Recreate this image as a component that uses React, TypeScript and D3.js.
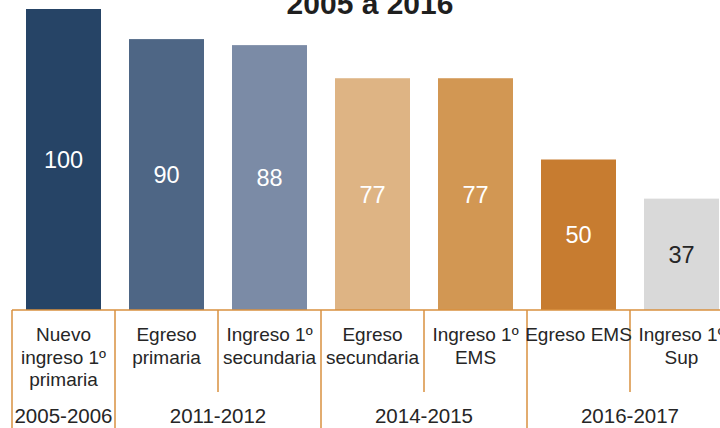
import React from "react";
import * as d3 from "d3";

const categories: string[][] = [
  ["Nuevo", "ingreso 1º", "primaria"],
  ["Egreso", "primaria"],
  ["Ingreso 1º", "secundaria"],
  ["Egreso", "secundaria"],
  ["Ingreso 1º", "EMS"],
  ["Egreso EMS"],
  ["Ingreso 1º", "Sup"],
];
const values = [100, 90, 88, 77, 77, 50, 37];
const barColors = ["#264466", "#4E6685", "#7B8BA6", "#DEB484", "#D29753", "#C77C30", "#D9D9D9"];
const labelColors = ["#fff", "#fff", "#fff", "#fff", "#fff", "#fff", "#262626"];
const groups = [
  { label: "2005-2006", from: 0, to: 0 },
  { label: "2011-2012", from: 1, to: 2 },
  { label: "2014-2015", from: 3, to: 4 },
  { label: "2016-2017", from: 5, to: 6 },
];
const title = "2005 a 2016";

const W = 720;
const H = 428;
const font = "'Liberation Sans', Arial, sans-serif";
const axisColor = "#D8913F";

export default function App() {
  const ids = categories.map((_, i) => String(i));
  const x = d3
    .scaleBand<string>()
    .domain(ids)
    .range([12, 733])
    .paddingInner(0.272)
    .paddingOuter(0.136);
  const step = x.step();
  const start = 12;
  const y = d3.scaleLinear().domain([0, 100]).range([310, 9]);
  const base = y(0);

  const boundaries: { x: number; full: boolean }[] = [];
  for (let i = 0; i <= categories.length; i++) {
    const full = i === 0 || groups.some((g) => g.to + 1 === i);
    boundaries.push({ x: start + i * step, full });
  }

  return (
    <svg
      width={W}
      height={H}
      style={{ position: "fixed", left: 0, top: 0, background: "#fff" }}
      fontFamily={font}
    >
      <text x={370} y={14} textAnchor="middle" fontSize={30} fontWeight="bold" fill="#1f1f1f">
        {title}
      </text>
      {values.map((v, i) => {
        const bx = x(String(i))!;
        const by = y(v);
        return (
          <g key={i}>
            <rect x={bx} y={by} width={x.bandwidth()} height={base - by} fill={barColors[i]} />
            <text
              x={bx + x.bandwidth() / 2}
              y={(by + base) / 2}
              dy="0.36em"
              textAnchor="middle"
              fontSize={23.5}
              fill={labelColors[i]}
            >
              {v}
            </text>
          </g>
        );
      })}
      <line x1={start} x2={W} y1={base} y2={base} stroke={axisColor} strokeWidth={1.5} />
      {boundaries.map((b, i) => (
        <line
          key={i}
          x1={b.x}
          x2={b.x}
          y1={base}
          y2={b.full ? H : 392}
          stroke={axisColor}
          strokeWidth={1.5}
        />
      ))}
      {categories.map((lines, i) => (
        <text key={i} textAnchor="middle" fontSize={19} fill="#262626">
          {lines.map((l, j) => (
            <tspan key={j} x={x(String(i))! + x.bandwidth() / 2} y={341 + j * 22.5}>
              {l}
            </tspan>
          ))}
        </text>
      ))}
      {groups.map((g, i) => (
        <text
          key={i}
          x={start + ((g.from + g.to + 1) / 2) * step}
          y={423}
          textAnchor="middle"
          fontSize={20.5}
          fill="#262626"
        >
          {g.label}
        </text>
      ))}
    </svg>
  );
}
